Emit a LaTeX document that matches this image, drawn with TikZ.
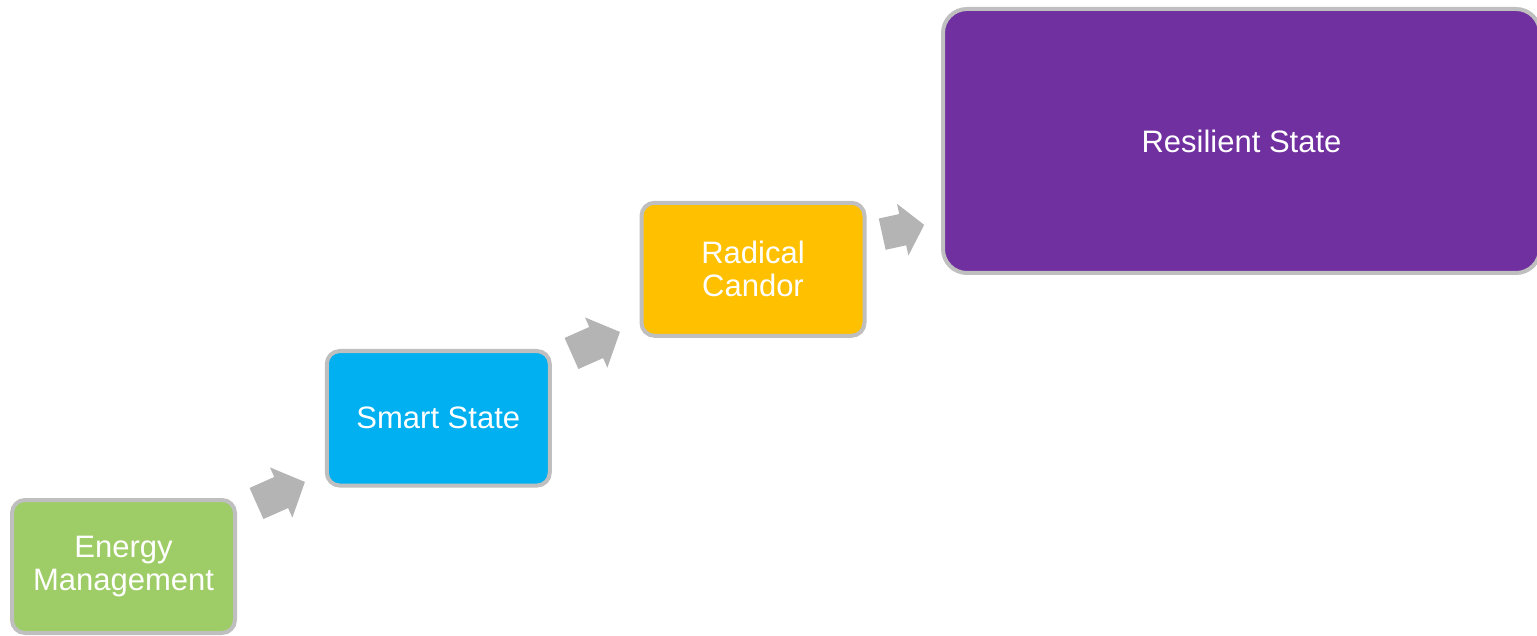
\documentclass[tikz,border=0pt]{standalone}
\usepackage{fontspec}
\setmainfont{Liberation Sans}
\definecolor{emgreen}{HTML}{9ECD67}
\definecolor{smblue}{HTML}{00B0F0}
\definecolor{rcgold}{HTML}{FFC000}
\definecolor{rspurple}{HTML}{7030A0}
\definecolor{rimgray}{HTML}{BFBFBF}
\definecolor{arrowgray}{HTML}{B4B4B4}
\tikzset{
  stage/.style={rectangle, rounded corners=6.5pt, draw=rimgray, line width=2pt,
    minimum width=111.5pt, minimum height=66.5pt, inner sep=0pt,
    text=white, align=center,
    font=\fontsize{15.5pt}{16.5pt}\selectfont},
  bigstage/.style={stage, rounded corners=12pt, minimum width=298.5pt, minimum height=132pt},
  % block arrow: shaft half-width / head base / head half-width / length
  pics/blockarrow/.style args={#1/#2/#3/#4}{code={
    \fill[arrowgray] (0,#1) -- (#2,#1) -- (#2,#3) -- (#4,0) -- (#2,-#3)
      -- (#2,-#1) -- (0,-#1) -- cycle;}}
}
\begin{document}
\begin{tikzpicture}[x=0.5pt, y=-0.5pt]
  \useasboundingbox (0,0) rectangle (1537,636);

  \node[stage, fill=emgreen] (energy) at (123.5,566.5) {Energy\\Management};
  \node[stage, fill=smblue, minimum height=67.3pt] (smart) at (438.3,418.3) {Smart State};
  \node[stage, fill=rcgold] (radical) at (753,269.3) {Radical\\Candor};
  \node[bigstage, fill=rspurple] (resilient) at (1241.5,141) {Resilient State};

  % tails of the step arrows
  \coordinate (t1) at (256.5,503.5);
  \coordinate (t2) at (571.5,353.5);
  \coordinate (t3) at (882.2,234.2);

  \pic[rotate=24] at (t1) {blockarrow=17/27/27.5/53};
  \pic[rotate=24] at (t2) {blockarrow=17/27/27.5/53};
  \pic[rotate=12.5] at (t3) {blockarrow=16/21/26.5/43};
\end{tikzpicture}
\end{document}
